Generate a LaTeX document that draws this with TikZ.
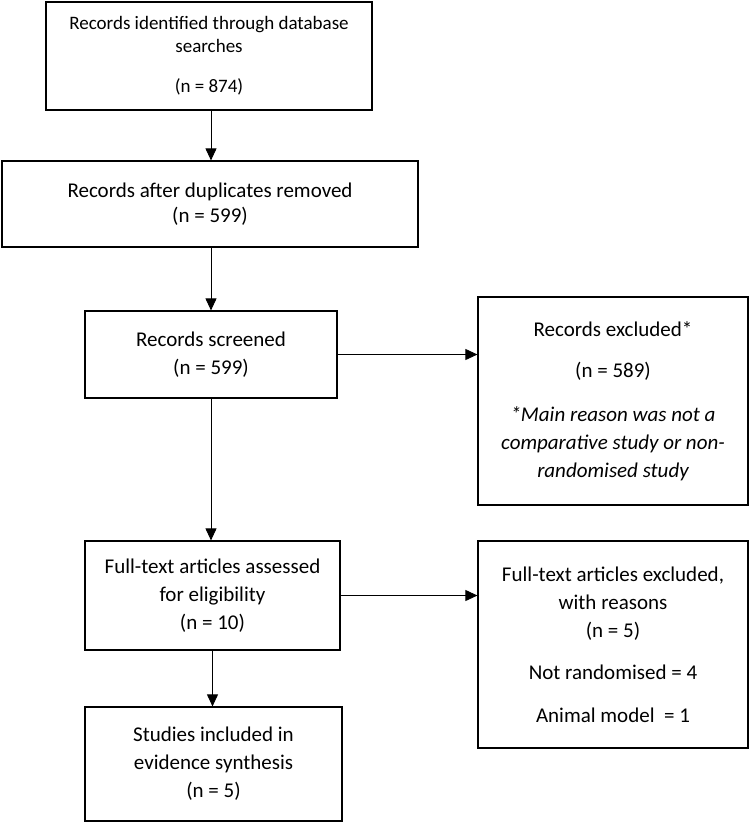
\documentclass[tikz,border=0pt]{standalone}
\usepackage{fontspec}
\setmainfont{Carlito}
\usetikzlibrary{arrows.meta}
\begin{document}
\begin{tikzpicture}[x=1pt,y=-1pt,
  box/.style={draw=black, line width=1.2pt, align=center, inner sep=0pt,
    font=\fontsize{21}{28}\selectfont},
  arr/.style={draw=black, line width=0.9pt, -{Triangle[width=11pt,length=12pt]}}]
\useasboundingbox (0,0) rectangle (750,823);

\node[box, minimum width=326pt, minimum height=108pt, font=\fontsize{19}{23}\selectfont]
  (b1) at (209,56) {Records identified through database\\searches\\[17pt](n = 874)};
\node[box, minimum width=416pt, minimum height=86pt, font=\fontsize{21}{25}\selectfont]
  (b2) at (210,204) {Records after duplicates removed\\(n = 599)};
\node[box, minimum width=252pt, minimum height=87pt]
  (b3) at (211,354.5) {Records screened\\(n = 599)};
\node[box, minimum width=270pt, minimum height=208pt]
  (b4) at (613,401) {Records excluded*\\[13pt](n = 589)\\[16pt]\itshape *Main reason was not a\\\itshape comparative study or non-\\\itshape randomised study};
\node[box, minimum width=255pt, minimum height=109pt]
  (b5) at (212.5,595.5) {Full-text articles assessed\\for eligibility\\(n = 10)};
\node[box, minimum width=270pt, minimum height=207pt]
  (b6) at (613,644.5) {Full-text articles excluded,\\with reasons\\(n = 5)\\[14pt]Not randomised = 4\\[15pt]Animal model\ \ = 1};
\node[box, minimum width=257pt, minimum height=114pt]
  (b7) at (213.5,764) {Studies included in\\evidence synthesis\\(n = 5)};

\draw[arr] (b1.south -| 211,0) -- (b2.north -| 211,0);
\draw[arr] (b2.south -| 211,0) -- (b3.north -| 211,0);
\draw[arr] (b3.south -| 211,0) -- (b5.north -| 211,0);
\draw[arr] (b5.south -| 212.5,0) -- (b7.north -| 212.5,0);
\draw[arr] (b3.east) -- (b3.east -| b4.west);
\draw[arr] (b5.east) -- (b5.east -| b6.west);
\end{tikzpicture}
\end{document}
